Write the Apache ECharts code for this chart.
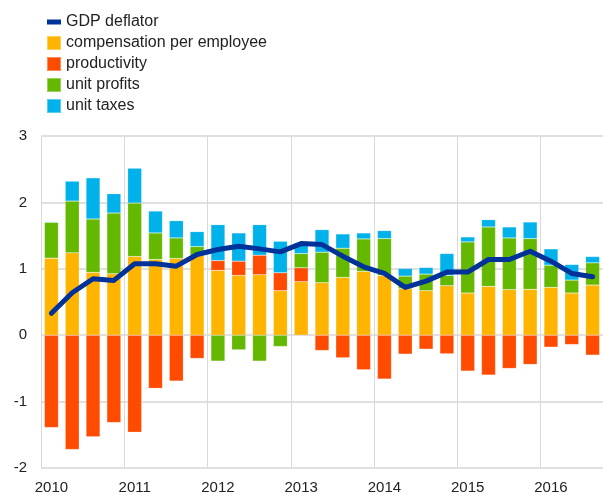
<!DOCTYPE html>
<html>
<head>
    <meta charset="utf-8" />
    <title>GDP deflator decomposition</title>
    <script src="https://cdn.jsdelivr.net/npm/echarts@6/dist/echarts.min.js"></script>
    <style>
        html, body { margin: 0; padding: 0; background: #fff; }
        #main { width: 603px; height: 495px; }
    </style>
</head>
<body>
    <div id="main"></div>
    <script>
        // quarters 2010 Q1 - 2016 Q3
        var quarters = [
            '2010 Q1', '2010 Q2', '2010 Q3', '2010 Q4',
            '2011 Q1', '2011 Q2', '2011 Q3', '2011 Q4',
            '2012 Q1', '2012 Q2', '2012 Q3', '2012 Q4',
            '2013 Q1', '2013 Q2', '2013 Q3', '2013 Q4',
            '2014 Q1', '2014 Q2', '2014 Q3', '2014 Q4',
            '2015 Q1', '2015 Q2', '2015 Q3', '2015 Q4',
            '2016 Q1', '2016 Q2', '2016 Q3'
        ];
        var gdpDeflator = [0.33, 0.64, 0.85, 0.825, 1.075, 1.075, 1.04, 1.215, 1.29, 1.34, 1.30, 1.255,
            1.38, 1.365, 1.19, 1.03, 0.93, 0.72, 0.815, 0.95, 0.95, 1.14, 1.14, 1.265, 1.115, 0.93, 0.88];
        var compensation = [1.16, 1.24, 0.945, 0.925, 1.185, 1.14, 1.155, 1.20, 0.975, 0.90, 0.91, 0.67,
            0.805, 0.79, 0.87, 0.96, 0.90, 0.70, 0.67, 0.745, 0.635, 0.735, 0.685, 0.69, 0.72, 0.635, 0.755];
        var productivity = [-1.39, -1.72, -1.53, -1.315, -1.46, -0.80, -0.69, -0.35, 0.15, 0.215, 0.295, 0.27,
            0.21, -0.23, -0.34, -0.52, -0.66, -0.285, -0.21, -0.28, -0.54, -0.60, -0.50, -0.44, -0.18, -0.14, -0.30];
        var unitProfits = [0.54, 0.78, 0.805, 0.915, 0.805, 0.40, 0.31, 0.135, -0.39, -0.22, -0.39, -0.17,
            0.215, 0.46, 0.44, 0.49, 0.555, 0.19, 0.25, 0.155, 0.77, 0.895, 0.78, 0.765, 0.335, 0.195, 0.335];
        var unitTaxes = [0.01, 0.30, 0.62, 0.29, 0.525, 0.33, 0.26, 0.225, 0.54, 0.425, 0.46, 0.475,
            0.16, 0.34, 0.215, 0.09, 0.12, 0.115, 0.10, 0.33, 0.075, 0.11, 0.165, 0.25, 0.245, 0.235, 0.095];

        var font = "'Liberation Sans', Arial, sans-serif";
        var myChart = echarts.init(document.getElementById('main'));

        function barSeries(name, data, color) {
            return {
                name: name,
                type: 'bar',
                stack: 'total',
                barWidth: 14,
                itemStyle: { color: color, borderColor: 'rgba(255,255,255,0.35)', borderWidth: 0.5 },
                data: data
            };
        }

        var option = {
            animation: false,
            textStyle: { fontFamily: font },
            legend: {
                orient: 'vertical',
                left: 41,
                top: 9,
                itemWidth: 14,
                itemHeight: 14,
                itemGap: 5,
                textStyle: { fontSize: 16, color: '#222', fontFamily: font },
                data: [
                    { name: 'GDP deflator', icon: 'path://M0,0 H14 V5 H0 Z' },
                    { name: 'compensation per employee', icon: 'rect' },
                    { name: 'productivity', icon: 'rect' },
                    { name: 'unit profits', icon: 'rect' },
                    { name: 'unit taxes', icon: 'rect' }
                ]
            },
            grid: { left: 41, right: 0, top: 136, bottom: 26 },
            xAxis: {
                type: 'category',
                data: quarters,
                axisLine: { show: false },
                axisTick: { show: false },
                axisLabel: {
                    interval: function (i) { return i % 4 === 0; },
                    formatter: function (v) { return v.slice(0, 4); },
                    fontSize: 15,
                    color: '#222',
                    margin: 12
                },
                splitLine: {
                    show: true,
                    interval: function (i) { return i % 4 === 0; },
                    lineStyle: { color: '#d9d9d9', width: 1 }
                }
            },
            yAxis: {
                type: 'value',
                min: -2,
                max: 3,
                interval: 1,
                axisLine: { show: false },
                axisTick: { show: false },
                axisLabel: { fontSize: 15, color: '#222', margin: 14 },
                splitLine: { lineStyle: { color: '#e0e0e0', width: 2 } }
            },
            series: [
                {
                    name: 'GDP deflator',
                    type: 'line',
                    data: gdpDeflator,
                    symbol: 'none',
                    symbolKeepAspect: true,
                    z: 5,
                    itemStyle: { color: '#003299' },
                    lineStyle: { color: '#003299', width: 5, cap: 'round', join: 'round' }
                },
                barSeries('compensation per employee', compensation, '#ffb400'),
                barSeries('productivity', productivity, '#ff4b00'),
                barSeries('unit profits', unitProfits, '#65b800'),
                barSeries('unit taxes', unitTaxes, '#00b1ea')
            ]
        };
        myChart.setOption(option);
    </script>
</body>
</html>
